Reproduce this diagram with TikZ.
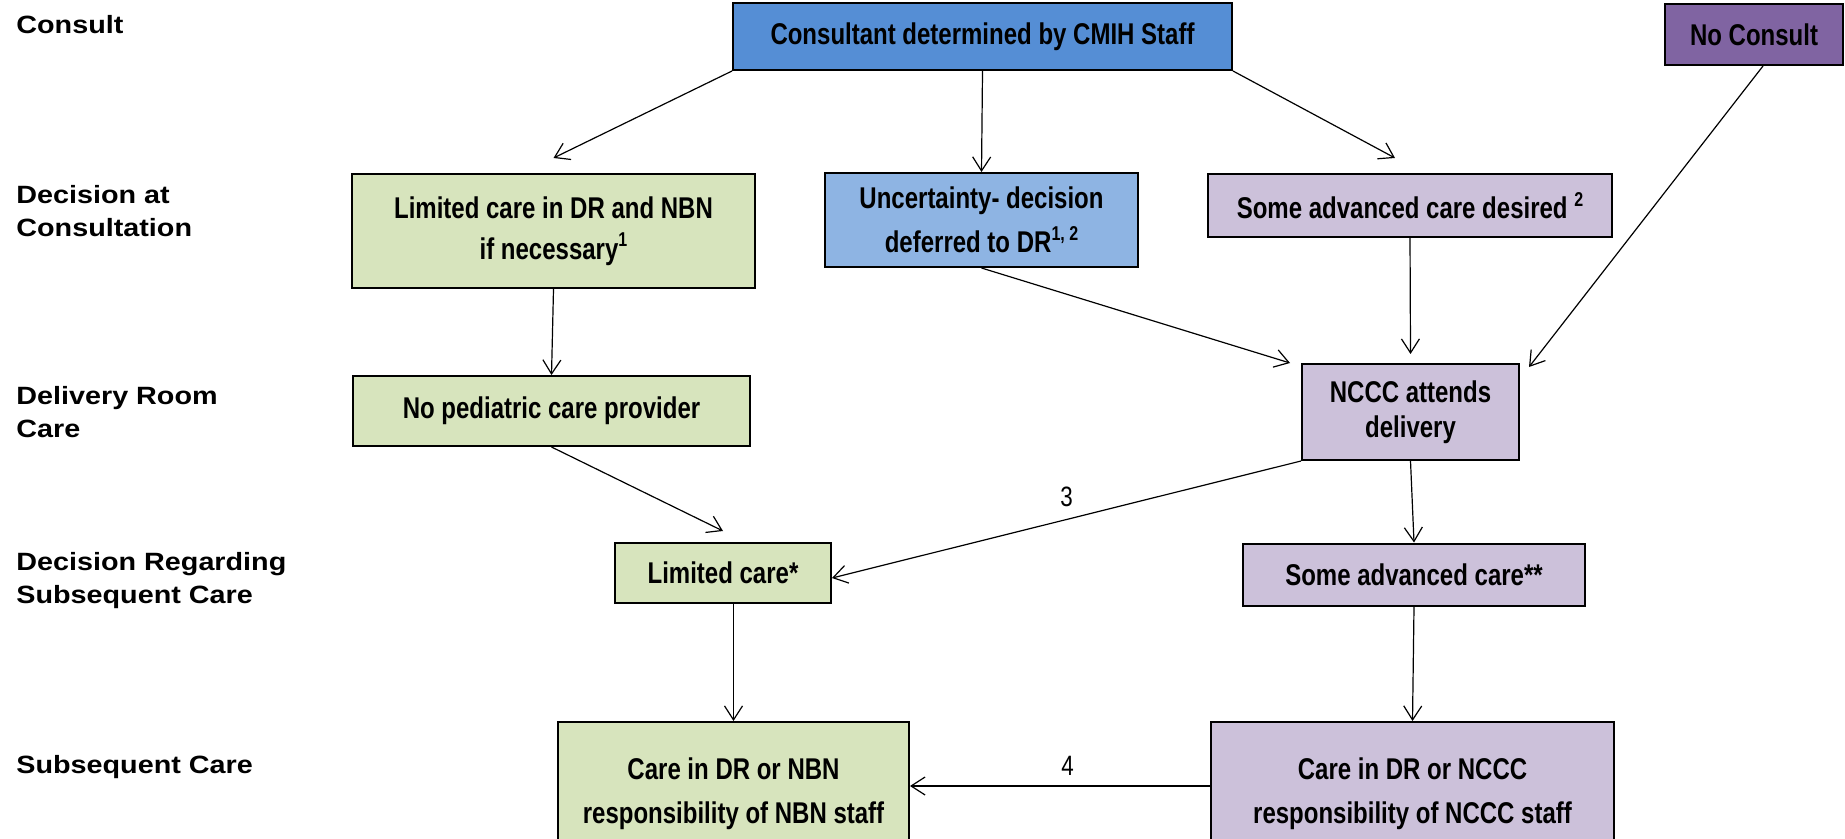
\documentclass[tikz,border=0pt]{standalone}
\usepackage{fontspec}
\setmainfont{Liberation Sans}
\newfontfamily\boxfont[FakeStretch=0.8]{Liberation Sans}
\newfontfamily\rowfont[FakeStretch=1.15]{Liberation Sans}
\usetikzlibrary{arrows.meta,calc}
\definecolor{consblue}{HTML}{558ED5}
\definecolor{softblue}{HTML}{8EB4E3}
\definecolor{nocpurple}{HTML}{8064A2}
\definecolor{lilac}{HTML}{CCC1DA}
\definecolor{sagegreen}{HTML}{D7E4BD}
\newcommand{\footmark}[1]{\raisebox{0.42em}{\fontsize{10}{10}\selectfont #1}}
\tikzset{
  flowarrow/.style={-{Straight Barb[length=7pt,width=9pt]}, line width=0.6pt},
  basebox/.style={draw, line width=1pt, inner sep=0pt, align=center, font=\boxfont\bfseries\fontsize{15}{20.5}\selectfont},
  consnode/.style={basebox, fill=consblue},
  bluenode/.style={basebox, fill=softblue},
  purplenode/.style={basebox, fill=nocpurple},
  lilacnode/.style={basebox, fill=lilac},
  greennode/.style={basebox, fill=sagegreen},
  rowlabel/.style={anchor=west, align=left, inner sep=0pt, font=\rowfont\bfseries\fontsize{12.5}{16.5}\selectfont},
  steplabel/.style={inner sep=1pt, font=\boxfont\fontsize{14}{16}\selectfont}
}

\begin{document}
\begin{tikzpicture}[x=0.5pt, y=-0.5pt]
  \useasboundingbox (0,0) rectangle (1845,839);
  % row titles
  \node[rowlabel] (rconsult) at (16,25) {Consult};
  \node[rowlabel] (rdecision) at (16,211) {Decision at\\Consultation};
  \node[rowlabel] (rdelivery) at (16,412) {Delivery Room\\Care};
  \node[rowlabel] (rregard) at (16,581) {Decision Regarding\\Subsequent Care};
  \node[rowlabel] (rsubseq) at (16,767) {Subsequent Care};
  % boxes
  \node[consnode, minimum width=249.5pt, minimum height=33.5pt] (cons) at (982.5,36.5) {Consultant determined by CMIH Staff};
  \node[purplenode, minimum width=89pt, minimum height=30.5pt] (nocons) at (1754,34.5) {No Consult};
  \node[greennode, minimum width=201.5pt, minimum height=57pt] (lim) at (553.5,231) {Limited care in DR and NBN\\if necessary\footmark{1}};
  \node[bluenode, minimum width=156.5pt, minimum height=47pt, font=\boxfont\bfseries\fontsize{15}{22}\selectfont] (unc) at (981.5,220) {Uncertainty- decision\\deferred to DR\footmark{1, 2}};
  \node[lilacnode, minimum width=202pt, minimum height=31.5pt] (adv) at (1410,205.5) {Some advanced care desired \footmark{2}};
  \node[greennode, minimum width=198.5pt, minimum height=35pt] (nop) at (551.5,411) {No pediatric care provider};
  \node[lilacnode, minimum width=108.5pt, minimum height=48pt, font=\boxfont\bfseries\fontsize{15}{17.5}\selectfont] (ncc) at (1410.5,412) {NCCC attends\\delivery};
  \node[greennode, minimum width=108pt, minimum height=30pt] (lc) at (723,573) {Limited care*};
  \node[lilacnode, minimum width=171pt, minimum height=31pt] (sac) at (1414,574.5) {Some advanced care**};
  \node[greennode, minimum width=175.5pt, minimum height=72pt, font=\boxfont\bfseries\fontsize{15}{22}\selectfont] (cnb) at (733.5,794) {Care in DR or NBN\\responsibility of NBN staff};
  \node[lilacnode, minimum width=201.5pt, minimum height=72pt, font=\boxfont\bfseries\fontsize{15}{22}\selectfont] (cnc) at (1412.5,794) {Care in DR or NCCC\\responsibility of NCCC staff};
  % connectors
  \draw[flowarrow] (cons.south west) -- ([yshift=7.5pt]lim.north);
  \draw[flowarrow] (cons.south) -- (unc.north);
  \draw[flowarrow] (cons.south east) -- ([xshift=-7.5pt,yshift=7.5pt]adv.north);
  \draw[flowarrow] ([xshift=4.5pt]nocons.south) -- ([xshift=4.5pt,yshift=-2pt]ncc.north east);
  \draw[flowarrow] (unc.south) -- ([xshift=-5.5pt]ncc.north west);
  \draw[flowarrow] (adv.south) -- ([yshift=4.5pt]ncc.north);
  \draw[flowarrow] (lim.south) -- (nop.north);
  \draw[flowarrow] (nop.south) -- ([yshift=5.5pt]lc.north);
  \draw[flowarrow] (ncc.south west) -- node[steplabel, above=5pt, pos=0.5] {3} ([yshift=-2.5pt]lc.east);
  \draw[flowarrow] (ncc.south) -- (sac.north);
  \draw[flowarrow] (lc.south -| cnb.north) -- (cnb.north);
  \draw[flowarrow] (sac.south) -- (cnc.north);
  \draw[flowarrow] ([yshift=4pt]cnc.west) -- node[steplabel, above=4pt, pos=0.475] {4} ([yshift=4pt]cnb.east);
\end{tikzpicture}
\end{document}
